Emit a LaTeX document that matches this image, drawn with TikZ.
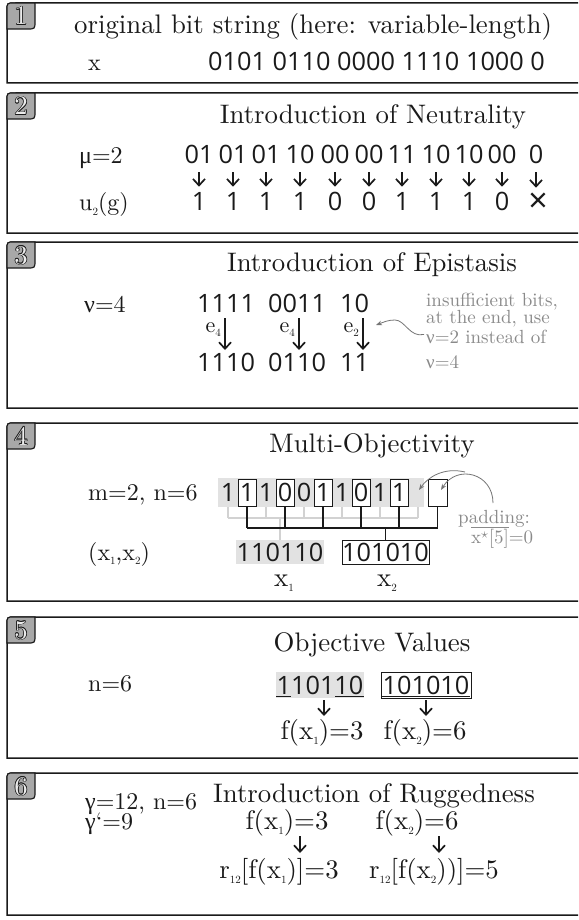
\documentclass[tikz,border=0pt]{standalone}
\usepackage{fontspec}
\setmainfont{lmroman10-regular}[Extension=.otf]
\usetikzlibrary{arrows.meta}
\newfontfamily\bitsf{Open Sans}
\newfontfamily\grk{Liberation Serif}
\definecolor{ink}{HTML}{1A1A1A}
\definecolor{tabgray}{HTML}{A8A8A8}
\definecolor{band}{HTML}{E2E2E2}
\definecolor{notec}{HTML}{8A8A8A}
\definecolor{lightc}{HTML}{D2D2D2}
\newcommand\sbs[1]{\raisebox{-0.2em}{\fontsize{11}{11}\selectfont #1}}
\newcommand\mainsz{\fontsize{26.8}{30}\selectfont}
\newcommand\labsz{\fontsize{24}{28}\selectfont}
\newcommand\bitsz{\bitsf\fontsize{25.3}{30}\selectfont}
\newcommand\notesz{\fontsize{19}{22}\selectfont}
\newcommand\esz{\fontsize{22}{24}\selectfont}
\begin{document}
\begin{tikzpicture}[x=1pt,y=-1pt,
  txt/.style={inner sep=0pt, font=\mainsz, text=ink},
  lab/.style={inner sep=0pt, font=\labsz, text=ink, anchor=base west},
  bit/.style={inner sep=0pt, font=\bitsz, text=ink, text height=18.1pt, text depth=0pt},
  notetxt/.style={inner sep=0pt, font=\notesz, text=notec},
  elab/.style={inner sep=0pt, font=\esz, text=ink},
  panel/.style={draw=ink, line width=1.5pt},
  tabshape/.style={draw=ink, fill=tabgray, line width=1.2pt},
  dn/.style={draw=ink, line width=1.7pt, -{Straight Barb[length=6.5pt,width=12pt]}},
  notearrow/.style={draw=notec!85!black, line width=0.8pt, -{Stealth[length=6pt,width=4.5pt]}},
  lightline/.style={draw=lightc, line width=1.1pt},
  darkline/.style={draw=ink, line width=1.1pt},
  bitbox/.style={draw=ink, fill=white, line width=0.9pt}]
\useasboundingbox (0,0) rectangle (578,920);
\clip (0,0) rectangle (578,920);
\fill[white] (0,0) rectangle (578,920);

% panel frame + tab with outlined number
\newcommand\panelframe[4]{%
  \draw[panel] (640,#2) -- (7,#2) -- (7,#1+9) .. controls (7,#1) .. (16,#1) -- (640,#1);
  \draw[tabshape] (7,#1+26) -- (7,#1+7) .. controls (7,#1) .. (14,#1) -- (35,#1) -- (35,#1+18) .. controls (35,#1+26) .. (27,#1+26) -- cycle;
  \foreach \dx/\dy in {0.8/0,-0.8/0,0/0.8,0/-0.8,0.55/0.55,-0.55/0.55,0.55/-0.55,-0.55/-0.55}{%
    \node[txt, anchor=base, text=ink] at (21+\dx,#1+22+\dy) {#3};}
  \node[txt, anchor=base, text=white!92!black] (#4) at (21,#1+22) {#3};}

%================ Panel 1
\panelframe{3}{83}{1}{t1}
\node[txt, anchor=base west] (title1) at (74,34) {original bit string (here: variable-length)};
\node[lab] (xlab) at (88,71) {x};
\node[bit, anchor=base west] (xbits) at (208,71) {0101 0110 0000 1110 1000 0};

%================ Panel 2
\panelframe{93}{233}{2}{t2}
\node[txt, anchor=base] (title2) at (373,124) {Introduction of Neutrality};
\node[lab] (mu) at (79,164) {{\grk μ}=2};
\node[lab] (ug) at (79,211) {u\sbs{2}(g)};
\foreach \x/\t/\v [count=\i] in {199/01/1, 233/01/1, 266/01/1, 300/10/1, 335/00/0, 369/00/0, 402/11/1, 436/10/1, 469/10/1, 502/00/0}{%
  \node[bit, anchor=base] (pa\i) at (\x,164) {\t};
  \node[bit, anchor=base] (va\i) at (\x,211) {\v};
  \draw[dn, shorten <=8pt, shorten >=6pt] (pa\i.south) -- (va\i.north);}
\node[bit, anchor=base] (pa11) at (536,164) {0};
\node[inner sep=0pt, font=\bitsf\fontsize{34}{34}\selectfont, text=ink, anchor=base, text height=18.1pt, text depth=0pt] (va11) at (538,212) {×};
\draw[dn, shorten <=8pt, shorten >=6pt] (pa11.south) -- (pa11.south |- va11.north);

%================ Panel 3
\panelframe{242}{408}{3}{t3}
\node[txt, anchor=base] (title3) at (372,271) {Introduction of Epistasis};
\node[lab] (nu) at (84,312) {{\grk ν}=4};
\node[bit, anchor=base west] (ga) at (197,312) {1111};
\node[bit, anchor=base west] (gb) at (268,312) {0011};
\node[bit, anchor=base west] (gc) at (340,312) {10};
\node[bit, anchor=base west] (ha) at (197,371) {1110};
\node[bit, anchor=base west] (hb) at (268,371) {0110};
\node[bit, anchor=base west] (hc) at (340,371) {11};
\coordinate (ea1) at (225,318); \coordinate (ea2) at (225,350);
\coordinate (eb1) at (299,318); \coordinate (eb2) at (299,350);
\coordinate (ec1) at (363,318); \coordinate (ec2) at (363,350);
\draw[dn] (ea1) -- (ea2);
\draw[dn] (eb1) -- (eb2);
\draw[dn] (ec1) -- (ec2);
\node[elab, anchor=base east] (la) at (221,332) {e\sbs{4}};
\node[elab, anchor=base east] (lb) at (295,332) {e\sbs{4}};
\node[elab, anchor=base east] (lc) at (359,332) {e\sbs{2}};
\node[notetxt, anchor=base west] (n1) at (426,306) {insufficient bits,};
\node[notetxt, anchor=base west] (n2) at (426,323) {at the end, use};
\node[notetxt, anchor=base west] (n3) at (426,343) {{\grk ν}=2 instead of};
\node[notetxt, anchor=base west] (n4) at (426,368) {{\grk ν}=4};
\coordinate (cv) at (376,325);
\draw[notearrow] ([xshift=-2pt,yshift=2pt]n3.west) .. controls (410,338) and (405,320) .. (395,320) .. controls (388,320) and (384,322) .. (cv);

%================ Panel 4
\panelframe{423}{601}{4}{t4}
\node[txt, anchor=base] (title4) at (372,452) {Multi-Objectivity};
\node[lab] (mn) at (88,500) {m=2, n=6};
\fill[band] (218,478) rectangle (424,507);
\foreach \x in {247,285,323,361,399}{\draw[bitbox] (\x-9,479) rectangle (\x+9,506);}
\draw[bitbox] (428,479) rectangle (447,506);
\foreach \x/\d [count=\i] in {228/1,247/1,266/1,285/0,304/0,323/1,342/1,361/0,380/1,399/1}{%
  \node[bit, anchor=base] (d\i) at (\x,501) {\d};}
\coordinate (pad) at (437.5,492);
% light bracket (x1)
\foreach \x in {228,266,304,342,380,418}{\draw[lightline] (\x,507) -- (\x,518);}
\draw[lightline] (228,518) -- (418,518);
\draw[lightline] (280,518) -- (280,540);
% dark bracket (x2)
\foreach \x in {247,285,323,361,399,437.5}{\draw[darkline] (\x,506) -- (\x,528);}
\draw[darkline] (247,528) -- (437.5,528);
\draw[darkline] (385.5,528) -- (385.5,540);
\fill[band] (236,540) rectangle (324,564);
\node[bit, anchor=base] (x1) at (280,561) {110110};
\draw[bitbox] (342,540) rectangle (429,564);
\node[bit, anchor=base] (x2) at (385.5,561) {101010};
\node[lab] (xx) at (88,560) {(x\sbs{1},x\sbs{2})};
\node[txt, anchor=base] (lx1) at (284,586) {x\sbs{1}};
\node[txt, anchor=base] (lx2) at (387,586) {x\sbs{2}};
\node[notetxt, anchor=base west] (padt) at (458,523) {padding:};
\node[notetxt, anchor=base west] (padv) at (471,543) {$\overline{\mbox{x}^{\star}\mbox{[5]}}$=0};
\draw[notearrow] (493,503) .. controls (493,473) and (457,464) .. (441,490);
\draw[notearrow] (465,472) .. controls (444,467) and (428,477) .. (419,490);

%================ Panel 5
\panelframe{617}{758}{5}{t5}
\node[txt, anchor=base] (title5) at (372,651) {Objective Values};
\node[lab] (n6) at (88,691) {n=6};
\fill[band] (276,672) rectangle (364,698);
\node[bit, anchor=base] (y1) at (320,694) {110110};
\draw[bitbox] (381,672) rectangle (471,698);
\node[bit, anchor=base] (y2) at (426,694) {101010};
\draw[ink, line width=1.8pt] ([yshift=-2.5pt]y1.base west) -- ++(14.4,0);
\draw[ink, line width=1.8pt] ([yshift=-2.5pt]y1.base east) -- ++(-28.8,0);
\draw[ink, line width=1.8pt] ([yshift=-2.5pt]y2.base west) -- ([yshift=-2.5pt]y2.base east);
\node[txt, anchor=base] (f1) at (322,739) {f(x\sbs{1})=3};
\node[txt, anchor=base] (f2) at (425,739) {f(x\sbs{2})=6};
\coordinate (fa1) at (324,700); \coordinate (fa2) at (324,716);
\coordinate (fb1) at (426,700); \coordinate (fb2) at (426,716);
\draw[dn] (fa1) -- (fa2);
\draw[dn] (fb1) -- (fb2);

%================ Panel 6
\panelframe{773}{915}{6}{t6}
\node[txt, anchor=base east] (title6) at (535,802) {Introduction of Ruggedness};
\node[lab] (g1) at (85,809) {{\grk γ}=12, n=6};
\node[lab] (g2) at (85,829) {{\grk γ}\textquoteleft=9};
\node[txt, anchor=base] (rf1) at (287,829) {f(x\sbs{1})=3};
\node[txt, anchor=base] (rf2) at (417,829) {f(x\sbs{2})=6};
\node[txt, anchor=base] (r1) at (279,878) {r\sbs{12}[f(x\sbs{1})]=3};
\node[txt, anchor=base] (r2) at (434,878) {r\sbs{12}[f(x\sbs{2}))]=5};
\coordinate (ra1) at (300,836); \coordinate (ra2) at (300,853);
\coordinate (rb1) at (439,836); \coordinate (rb2) at (439,853);
\draw[dn] (ra1) -- (ra2);
\draw[dn] (rb1) -- (rb2);
\end{tikzpicture}
\end{document}
